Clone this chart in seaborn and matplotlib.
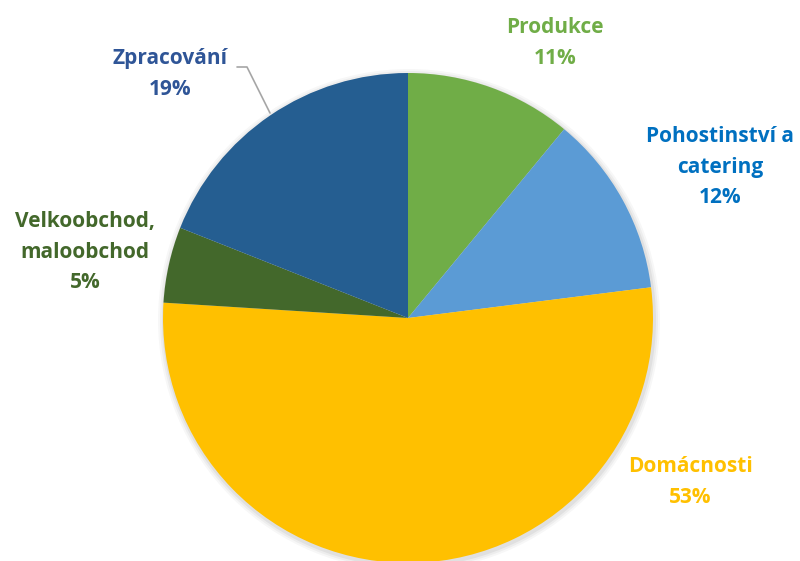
import matplotlib.pyplot as plt
import seaborn as sns

# podíl jednotlivých sektorů (%)
sektory = ['Produkce', 'Pohostinství a\ncatering', 'Domácnosti',
           'Velkoobchod,\nmaloobchod', 'Zpracování']
podily = [11, 12, 53, 5, 19]

barvy = ['#70AD47', '#5B9BD5', '#FFC000', '#43682B', '#255E91']
barvy_textu = ['#70AD47', '#0070C0', '#FFC000', '#43682B', '#2F5597']
# stred popisku v pixelech (x, y od horniho okraje)
pozice = [(555, 43), (720, 167), (690, 482), (85, 252), (170, 74)]

sns.set_theme(style='white')
plt.rcParams['font.family'] = ['Open Sans', 'DejaVu Sans']

W, H = 800, 561
fig = plt.figure(figsize=(W / 100, H / 100), dpi=100)
ax = fig.add_axes([0, 0, 1, 1])

cx, cy, r = 408, H - 318, 245

# jemny stin pod kolacem
for i, a in enumerate([0.05, 0.04, 0.03]):
    ax.add_patch(plt.Circle((cx + 1, cy - 2), r + 2 + 2 * i, color='black',
                            alpha=a, lw=0, zorder=0))

ax.pie(podily, colors=barvy, startangle=90, counterclock=False,
       center=(cx, cy), radius=r, frame=True,
       wedgeprops=dict(linewidth=0))
ax.set_xlim(0, W)
ax.set_ylim(0, H)
ax.set_aspect('equal')
ax.axis('off')

for nazev, hodnota, barva, (x, y) in zip(sektory, podily, barvy_textu, pozice):
    ax.text(x, H - y, f'{nazev}\n{hodnota}%', color=barva, ha='center',
            va='center', fontsize=15, fontweight='bold', linespacing=1.6)

# odkazova cara u Zpracovani
ax.plot([237, 247, 270], [H - 67, H - 67, H - 113], color='#A6A6A6', lw=1.2)

fig.savefig('out.png', dpi=100)
